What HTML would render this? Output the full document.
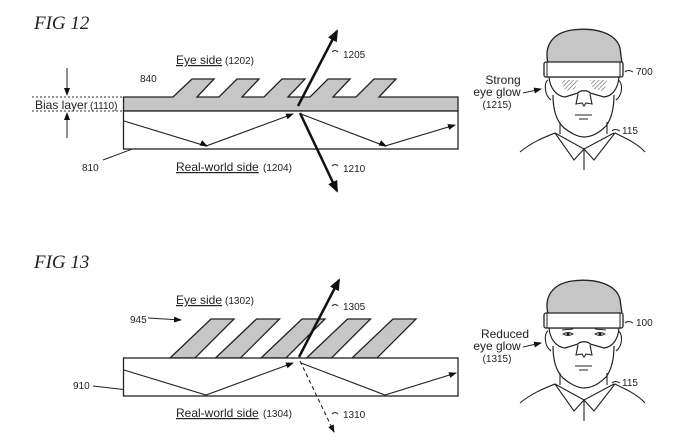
<!DOCTYPE html>
<html><head><meta charset="utf-8"><style>
html,body{margin:0;padding:0;background:#fff}
svg{display:block}
text{font-family:"Liberation Sans",sans-serif;fill:#222}
.fig{font-family:"Liberation Serif",serif;font-style:italic;font-size:19px}
.s{font-size:10px}.m{font-size:12px}
</style></head><body>
<svg width="700" height="441" viewBox="0 0 700 441" xmlns="http://www.w3.org/2000/svg">
<defs>
<marker id="a" markerWidth="8" markerHeight="8" refX="7" refY="4" orient="auto" markerUnits="userSpaceOnUse"><path d="M0,1 L8,4 L0,7 Z" fill="#111"/></marker>
<marker id="b" markerWidth="12" markerHeight="12" refX="10" refY="6" orient="auto" markerUnits="userSpaceOnUse"><path d="M0,1 L12,6 L0,11 Z" fill="#111"/></marker>
<pattern id="h" width="3" height="3" patternUnits="userSpaceOnUse" patternTransform="rotate(45)"><line x1="0" y1="0" x2="0" y2="3" stroke="#444" stroke-width="1"/></pattern>
<g id="head">
<path d="M548,63 C544,46 552,33 572,30 C595,27 616,33 620,48 L622,63 Z" fill="#c6c6c6" stroke="#222" stroke-width="1.3"/>
<path d="M548,80 C544,82 544,95 551,100 M618,80 C623,82 623,95 616,100" fill="none" stroke="#222" stroke-width="1.1"/>
<path d="M553,95 C553,110 556,120 563,127 C570,133 578,137 584,137 C592,137 600,132 606,126 C612,118 614,108 614,95" fill="none" stroke="#222" stroke-width="1.2"/>
<path d="M560,122 L560,134 M607,122 L607,134" fill="none" stroke="#222" stroke-width="1.1"/>
<path d="M520,152 C532,142 545,137 555,133 L574,160 L584,149 L594,160 L615,133 C625,138 637,143 645,152 M555,133 L584,149 L614,133 M584,149 L584,170" fill="none" stroke="#222" stroke-width="1.1"/>
<path d="M578,94 L576,104 L582,103 L584,106 L586,103 L592,104 L590,94" fill="none" stroke="#222" stroke-width="1.1"/>
<path d="M575,115 L592,115 M579,119 L588,119" stroke="#222" stroke-width="1"/>
<path d="M549,77 C550,88 556,96 565,97 L578,93 C580,90 588,90 590,93 L604,97 C613,96 618,88 619,77 Z" fill="#fff" stroke="#222" stroke-width="1.2"/>
<rect x="544" y="62" width="79" height="15" rx="2" fill="#fff" stroke="#222" stroke-width="1.3"/>
<path d="M547,62 L547,77 M620,62 L620,77" stroke="#222" stroke-width="1"/>
</g>
</defs>

<!-- FIG 12 -->
<text x="34" y="29" class="fig">FIG 12</text>
<text x="176" y="64" class="m" text-decoration="underline">Eye side</text><text x="225" y="64" class="s">(1202)</text>
<text x="176" y="171" class="m" text-decoration="underline">Real-world side</text><text x="263" y="171" class="s">(1204)</text>
<text x="140" y="82" class="s">840</text>
<text x="35" y="109" class="m">Bias layer</text><text x="90" y="109" class="s">(1110)</text>
<text x="82" y="171" class="s">810</text>
<text x="343" y="58" class="s">1205</text>
<text x="343" y="172" class="s">1210</text>
<line x1="32" y1="97" x2="123" y2="97" stroke="#333" stroke-dasharray="2,2"/>
<line x1="32" y1="111" x2="123" y2="111" stroke="#333" stroke-dasharray="2,2"/>
<line x1="67" y1="68" x2="67" y2="95" stroke="#222" marker-end="url(#a)"/>
<line x1="67" y1="138" x2="67" y2="113" stroke="#222" marker-end="url(#a)"/>
<line x1="103" y1="160" x2="135" y2="148" stroke="#222"/>
<g stroke="#222" stroke-width="1.3" fill="#c6c6c6">
<path d="M123.5,111 L123.5,97 L173,97 L192,79 L214,79 L197,97 L219,97 L237,79 L259,79 L242,97 L264,97 L282,79 L305,79 L288,97 L310,97 L328,79 L350,79 L333,97 L356,97 L374,79 L396,79 L379,97 L458,97 L458,111 Z"/>
</g>
<rect x="123.5" y="111" width="334.5" height="38" fill="#fff" stroke="#222" stroke-width="1.3"/>
<polyline points="124,121 206,146 293,114" fill="none" stroke="#222" stroke-width="1.1" marker-end="url(#a)"/>
<polyline points="301,114 385,146 455,125" fill="none" stroke="#222" stroke-width="1.1" marker-end="url(#a)"/>
<line x1="205" y1="145" x2="207" y2="146" stroke="#222" marker-end="url(#a)"/>
<line x1="384" y1="145" x2="386" y2="146" stroke="#222" marker-end="url(#a)"/>
<line x1="298" y1="106" x2="337" y2="31" stroke="#111" stroke-width="2.5" marker-end="url(#b)"/>
<line x1="300" y1="113" x2="337" y2="191" stroke="#111" stroke-width="2.5" marker-end="url(#b)"/>
<path d="M332,52 q3,-3 6,0" fill="none" stroke="#222"/>
<path d="M332,166 q3,-3 6,0" fill="none" stroke="#222"/>
<use href="#head"/>
<path d="M561,80 L578,80 L575,89 L565,91 Z M590,80 L607,80 L604,91 L593,89 Z" fill="url(#h)"/>
<text x="503" y="84" class="m" text-anchor="middle">Strong</text>
<text x="497" y="96" class="m" text-anchor="middle">eye glow</text>
<text x="497" y="108" class="s" text-anchor="middle">(1215)</text>
<line x1="523" y1="93" x2="541" y2="89" stroke="#222" marker-end="url(#a)"/>
<text x="636" y="75" class="s">700</text><path d="M625,72 q3,-3 8,0" fill="none" stroke="#222"/>
<text x="622" y="134" class="s">115</text><path d="M612,131 q3,-3 8,0" fill="none" stroke="#222"/>

<!-- FIG 13 -->
<text x="34" y="268" class="fig">FIG 13</text>
<text x="176" y="304" class="m" text-decoration="underline">Eye side</text><text x="225" y="304" class="s">(1302)</text>
<text x="176" y="417" class="m" text-decoration="underline">Real-world side</text><text x="263" y="417" class="s">(1304)</text>
<text x="130" y="323" class="s">945</text>
<line x1="148" y1="318" x2="181" y2="320" stroke="#222" marker-end="url(#a)"/>
<text x="73" y="389" class="s">910</text>
<line x1="93" y1="386" x2="128" y2="390" stroke="#222"/>
<text x="343" y="310" class="s">1305</text>
<text x="343" y="418" class="s">1310</text>
<g stroke="#222" stroke-width="1.3" fill="#c6c6c6">
<path d="M170,358 L211,319 L234,319 L195,358 Z"/>
<path d="M215.5,358 L256.5,319 L279.5,319 L240.5,358 Z"/>
<path d="M261,358 L302,319 L325,319 L286,358 Z"/>
<path d="M306.5,358 L347.5,319 L370.5,319 L331.5,358 Z"/>
<path d="M352,358 L393,319 L416,319 L377,358 Z"/>
</g>
<rect x="123.5" y="358" width="334.5" height="38" fill="#fff" stroke="#222" stroke-width="1.3"/>
<polyline points="124,370 206,395 293,363" fill="none" stroke="#222" stroke-width="1.1" marker-end="url(#a)"/>
<polyline points="301,363 385,395 456,373" fill="none" stroke="#222" stroke-width="1.1" marker-end="url(#a)"/>
<line x1="299" y1="357" x2="339" y2="280" stroke="#111" stroke-width="2.5" marker-end="url(#b)"/>
<line x1="300" y1="361" x2="334" y2="432" stroke="#222" stroke-width="1.1" stroke-dasharray="4,3" marker-end="url(#a)"/>
<path d="M332,306 q3,-3 6,0" fill="none" stroke="#222"/>
<path d="M332,414 q3,-3 6,0" fill="none" stroke="#222"/>
<g transform="translate(0,251)"><use href="#head"/>
<path d="M563,83 q5,-3 10,0 q-5,3 -10,0 Z M595,83 q5,-3 10,0 q-5,3 -10,0 Z" fill="none" stroke="#222"/>
<circle cx="568" cy="83" r="1.5" fill="#222"/><circle cx="600" cy="83" r="1.5" fill="#222"/>
<path d="M562,79 l11,-1 M595,78 l11,1" stroke="#222"/>
</g>
<text x="505" y="338" class="m" text-anchor="middle">Reduced</text>
<text x="497" y="350" class="m" text-anchor="middle">eye glow</text>
<text x="497" y="362" class="s" text-anchor="middle">(1315)</text>
<line x1="523" y1="347" x2="541" y2="343" stroke="#222" marker-end="url(#a)"/>
<text x="636" y="326" class="s">100</text><path d="M625,323 q3,-3 8,0" fill="none" stroke="#222"/>
<text x="622" y="386" class="s">115</text><path d="M612,383 q3,-3 8,0" fill="none" stroke="#222"/>
</svg>
</body></html>
